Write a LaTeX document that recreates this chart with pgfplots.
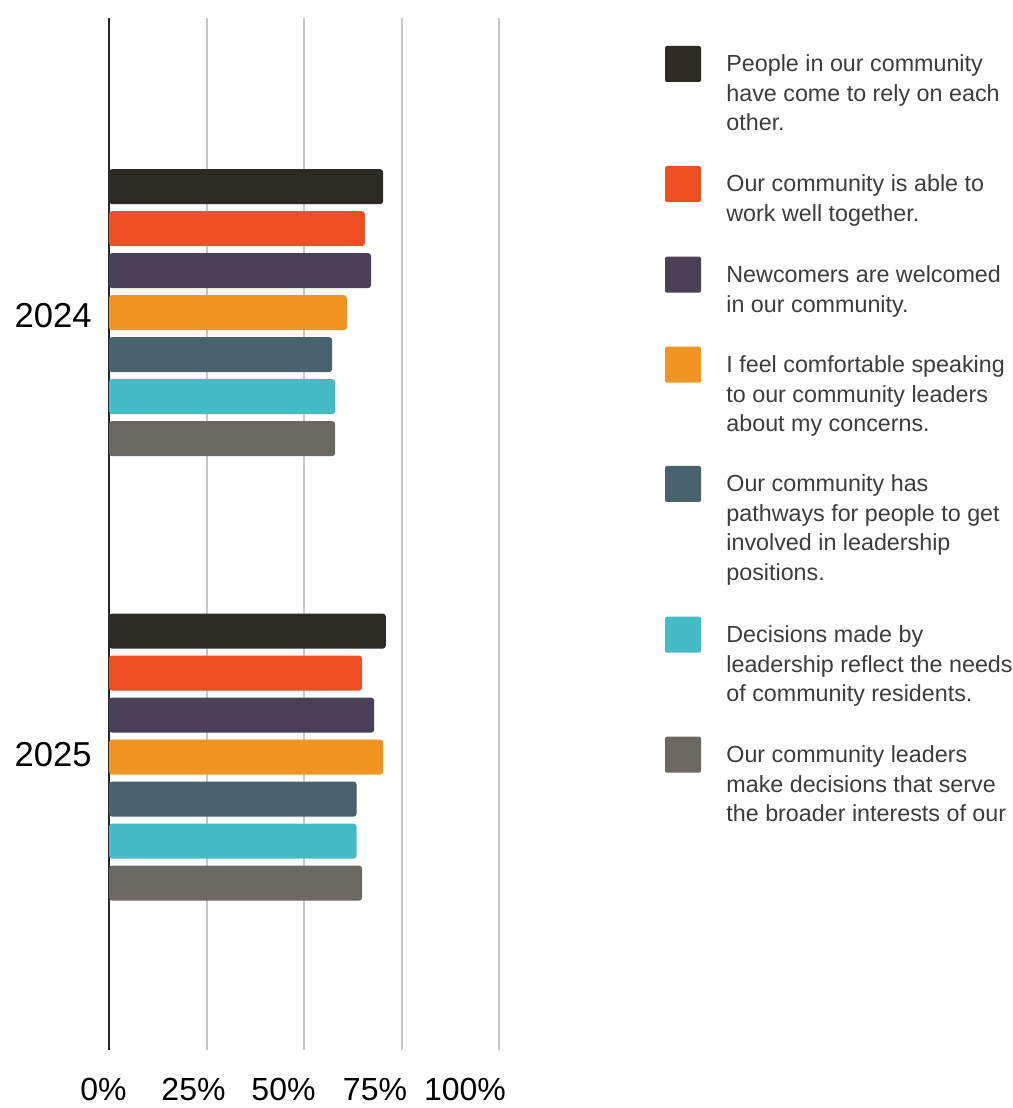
\documentclass[border=0pt]{standalone}
\usepackage{pgfplots}
\pgfplotsset{compat=1.18}
\usepackage{fontspec}
\setmainfont{Liberation Sans}
\definecolor{c1}{RGB}{45,42,35}
\definecolor{c2}{RGB}{240,78,35}
\definecolor{c3}{RGB}{74,65,87}
\definecolor{c4}{RGB}{242,148,34}
\definecolor{c5}{RGB}{72,99,110}
\definecolor{c6}{RGB}{68,187,199}
\definecolor{c7}{RGB}{107,104,97}
\definecolor{txt}{RGB}{60,60,60}
\newcommand{\legfont}{\fontsize{11.65}{15}\selectfont}
\newcommand{\tickfont}{\fontsize{16}{19}\selectfont}
\newcommand{\catfont}{\fontsize{17.3}{20}\selectfont}
\begin{document}
\begin{tikzpicture}
\path (0,0) rectangle (506pt,554pt);
\begin{axis}[
  at={(54.5pt,29pt)}, anchor=south west,
  scale only axis, width=195pt, height=516pt,
  xbar, bar width=0.0788,
  xmin=0, xmax=100, ymin=-0.659, ymax=1.663,
  xtick={25,50,75,100}, xticklabels={,,,,},
  ytick=\empty,
  xmajorgrids, grid style={color=black!22, line width=1pt},
  major tick length=0pt,
  axis x line*=bottom, axis y line*=left,
  x axis line style={draw=none},
  y axis line style={draw=black!85, line width=1.2pt, -},
  clip=false,
]
\addplot[fill=c1, draw=none, bar shift=0.2835, rounded corners=1.5pt] coordinates {(70.3,1) (71.0,0)};
\addplot[fill=c2, draw=none, bar shift=0.189, rounded corners=1.5pt] coordinates {(65.6,1) (64.9,0)};
\addplot[fill=c3, draw=none, bar shift=0.0945, rounded corners=1.5pt] coordinates {(67.2,1) (68.0,0)};
\addplot[fill=c4, draw=none, bar shift=0, rounded corners=1.5pt] coordinates {(61.0,1) (70.3,0)};
\addplot[fill=c5, draw=none, bar shift=-0.0945, rounded corners=1.5pt] coordinates {(57.2,1) (63.5,0)};
\addplot[fill=c6, draw=none, bar shift=-0.189, rounded corners=1.5pt] coordinates {(58.0,1) (63.5,0)};
\addplot[fill=c7, draw=none, bar shift=-0.2835, rounded corners=1.5pt] coordinates {(58.0,1) (64.9,0)};
\end{axis}
\begin{scope}[x=0.5pt,y=-0.5pt,shift={(0pt,554pt)}]
% category labels
\node[anchor=east, inner sep=0pt, font=\catfont] at (92,316) {2024};
\node[anchor=east, inner sep=0pt, font=\catfont] at (92,755) {2025};
% x tick labels
\foreach \xx/\lab in {103.5/0\%, 193.5/25\%, 283.5/50\%, 375/75\%, 465/100\%}
  \node[anchor=base, inner sep=0pt, font=\tickfont] at (\xx,1101) {\lab};
% legend squares
\fill[c1, rounded corners=1pt] (665,46) rectangle (701,82);
\fill[c2, rounded corners=1pt] (665,166) rectangle (701,202);
\fill[c3, rounded corners=1pt] (665,256.7) rectangle (701,292.7);
\fill[c4, rounded corners=1pt] (665,346.7) rectangle (701,382.7);
\fill[c5, rounded corners=1pt] (665,466) rectangle (701,502);
\fill[c6, rounded corners=1pt] (665,616.7) rectangle (701,652.7);
\fill[c7, rounded corners=1pt] (665,736.7) rectangle (701,772.7);
% legend text
\tikzset{lt/.style={anchor=base west, inner sep=0pt, font=\legfont, text=txt}}
\node[lt] at (726,72) {People in our community};
\node[lt] at (726,101.5) {have come to rely on each};
\node[lt] at (726,131) {other.};
\node[lt] at (726,192) {Our community is able to};
\node[lt] at (726,221.5) {work well together.};
\node[lt] at (726,282.7) {Newcomers are welcomed};
\node[lt] at (726,312.2) {in our community.};
\node[lt] at (726,372.7) {I feel comfortable speaking};
\node[lt] at (726,402.2) {to our community leaders};
\node[lt] at (726,431.7) {about my concerns.};
\node[lt] at (726,492) {Our community has};
\node[lt] at (726,521.5) {pathways for people to get};
\node[lt] at (726,551) {involved in leadership};
\node[lt] at (726,580.5) {positions.};
\node[lt] at (726,642.7) {Decisions made by};
\node[lt] at (726,672.2) {leadership reflect the needs};
\node[lt] at (726,701.7) {of community residents.};
\node[lt] at (726,762.7) {Our community leaders};
\node[lt] at (726,792.2) {make decisions that serve};
\node[lt] at (726,821.7) {the broader interests of our};
\end{scope}
\end{tikzpicture}
\end{document}
